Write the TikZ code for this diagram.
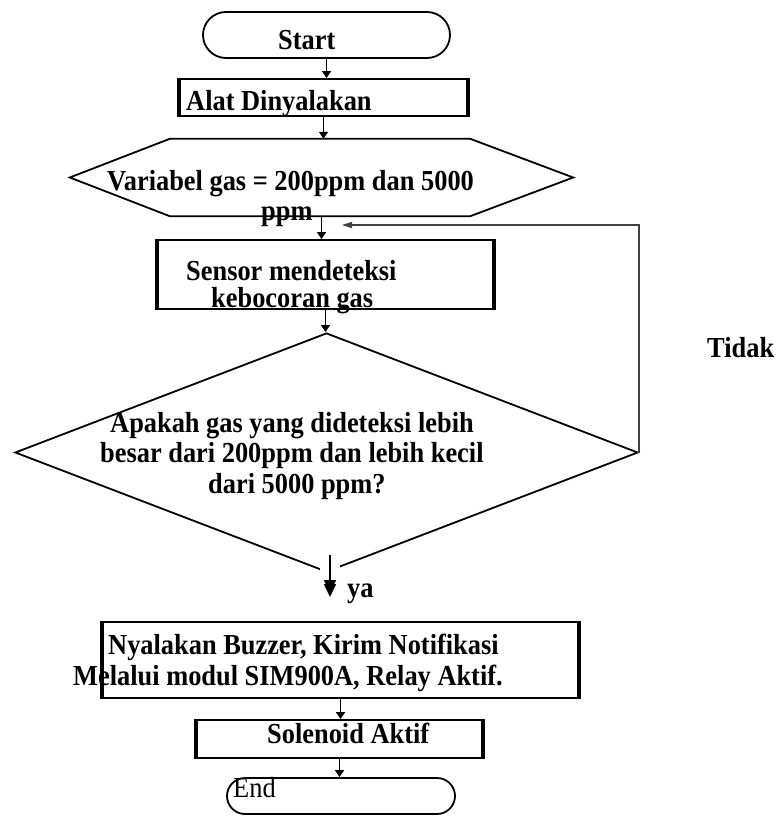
\documentclass[tikz,border=0pt]{standalone}
\usepackage{fontspec}
\setmainfont{Liberation Serif}[FakeStretch=0.91]
\usetikzlibrary{arrows.meta,shapes.geometric}
\begin{document}
\begin{tikzpicture}[x=1pt,y=-1pt,
  shp/.style={draw,line width=1.8pt,inner sep=0pt},
  lbl/.style={anchor=base west,inner sep=0pt,font=\fontsize{29}{32}\selectfont\bfseries},
  lblr/.style={anchor=base west,inner sep=0pt,font=\fontsize{29}{32}\selectfont},
  conn/.style={line width=1.4pt,-{Triangle[length=7pt,width=9pt]}},
  bigconn/.style={line width=1.6pt,-{Triangle[length=13pt,width=12pt]}},
  fb/.style={line width=1.2pt,black!75,-{Triangle[length=10pt,width=6pt]}},
  thickside/.style={line width=4.5pt}]
\useasboundingbox (0,0) rectangle (776,816);
\fill[white] (0,0) rectangle (776,816);

% shapes
\node[shp,rounded corners=23pt,minimum width=247pt,minimum height=46pt] (start) at (326.5,35) {};
\node[shp,minimum width=287pt,minimum height=37pt] (alat) at (323.5,97.5) {};
\node[inner sep=0pt,minimum width=503pt,minimum height=77pt] (hex) at (321.5,177.5) {};
\draw[line width=1.8pt] ([xshift=100pt]hex.north west) -- ([xshift=-103pt]hex.north east) -- (hex.east)
  -- ([xshift=-103pt]hex.south east) -- ([xshift=100pt]hex.south west) -- (hex.west) -- cycle;
\node[shp,minimum width=335pt,minimum height=69pt] (sensor) at (325.5,274.5) {};
\node[shp,diamond,minimum width=623pt,minimum height=239pt] (dia) at (326.5,452.5) {};
\node[shp,minimum width=475pt,minimum height=76pt] (buzzer) at (340.5,660) {};
\node[shp,minimum width=285pt,minimum height=38pt] (sol) at (339.5,739) {};
\node[shp,rounded corners=18pt,minimum width=228pt,minimum height=36pt] (end) at (341,796) {};

% connectors
\draw[conn] (start.south) -- (start.south |- alat.north);
\draw[conn] (alat.south) -- (alat.south |- hex.north);
\draw[conn] (hex.south) -- (hex.south |- sensor.north);
\draw[conn] (sensor.south) -- (sensor.south |- dia.north);
\coordinate (fbend) at (342,225);
\draw[fb] (dia.east) -- (dia.east |- fbend) -- (fbend);
\coordinate (yastart) at (330,555);
\coordinate (yaend) at (330,593);
\draw[bigconn,preaction={draw,white,line width=20pt,-}] (yastart) -- ([yshift=-4pt]yaend);
\draw[bigconn] (yastart) -- (yaend);
\draw[conn] (buzzer.south) -- (buzzer.south |- sol.north);
\draw[conn] (sol.south) -- (sol.south |- end.north);

% texts
\node[lbl] (tstart) at (278,50) {Start};
\node[lbl] (talat) at (186,110) {Alat Dinyalakan};
\node[lbl] (tvar1) at (107,190) {Variabel gas = 200ppm dan 5000};
\node[lbl] (tvar2) at (261,220) {ppm};
\node[lbl] (tsen1) at (186,280) {Sensor mendeteksi};
\node[lbl] (tsen2) at (211,307) {kebocoran gas};
\node[lbl] (tdia1) at (110,432) {Apakah gas yang dideteksi lebih};
\node[lbl] (tdia2) at (100,462) {besar dari 200ppm dan lebih kecil};
\node[lbl] (tdia3) at (208,493) {dari 5000 ppm?};
\node[lbl] (ttidak) at (707,357) {Tidak};
\node[lbl] (tya) at (347,597) {ya};
\node[lbl] (tbuz1) at (108,654) {Nyalakan Buzzer, Kirim Notifikasi};
\node[lbl] (tbuz2) at (73,685) {Melalui modul SIM900A, Relay Aktif.};
\node[lbl] (tsol) at (267,743) {Solenoid Aktif};
\node[lblr] (tend) at (233,797) {End};

% thick sides
\draw[thickside] (alat.north west) -- (alat.south west);
\draw[thickside] (alat.north east) -- (alat.south east);
\draw[thickside] (sensor.north west) -- (sensor.south west);
\draw[thickside] (sensor.north east) -- (sensor.south east);
\draw[line width=3.5pt] (buzzer.north west) -- (buzzer.south west);
\draw[line width=3.5pt] (buzzer.north east) -- (buzzer.south east);
\draw[thickside] (sol.north west) -- (sol.south west);
\draw[line width=3.5pt] (sol.north east) -- (sol.south east);
\end{tikzpicture}
\end{document}
